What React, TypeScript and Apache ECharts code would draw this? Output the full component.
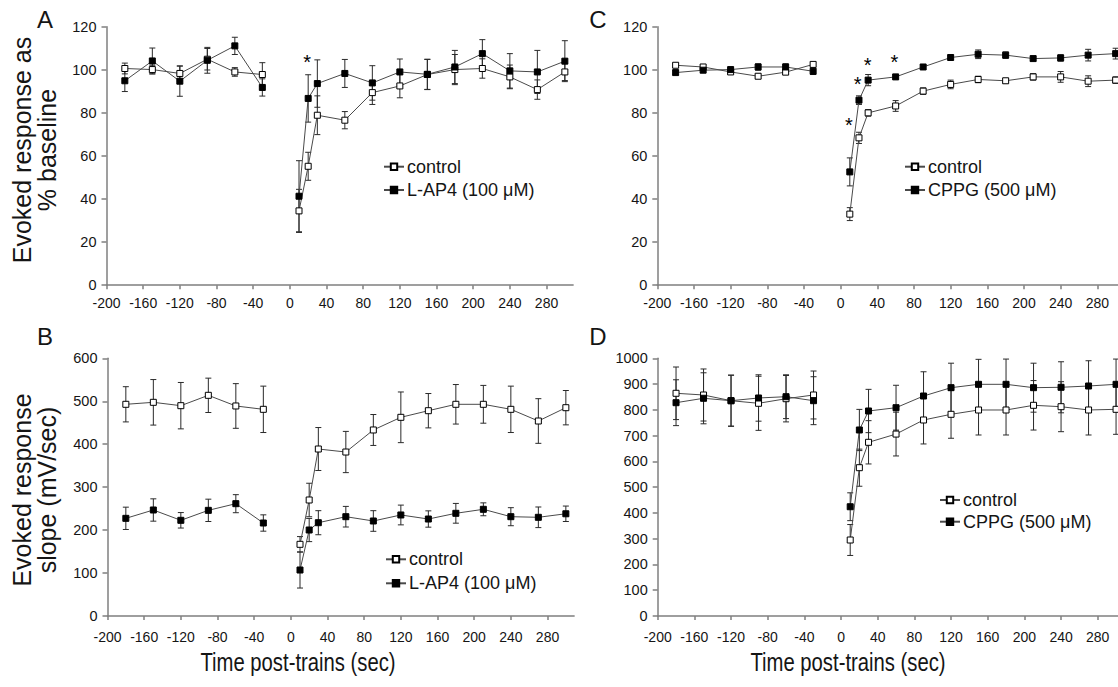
import React, { useEffect, useRef } from 'react';
import * as echarts from 'echarts';

// ---------- data ----------
const timeBase = [-180, -150, -120, -90, -60, -30];
const timePost = [10, 20, 30, 60, 90, 120, 150, 180, 210, 240, 270, 300];
const times = [...timeBase, ...timePost];
const xTickValues = [-200, -160, -120, -80, -40, 0, 40, 80, 120, 160, 200, 240, 280];

// Panel A (% baseline, L-AP4)
const aCtrlMean = [100.6, 100.1, 98.3, 104.9, 99.0, 97.8, 34.5, 55.2, 78.9, 76.6, 89.4, 92.5, 97.8, 100.1, 100.6, 96.7, 90.8, 99.0];
const aCtrlErr = [2.5, 2, 3.5, 5, 2, 5.5, 10, 6.5, 9, 4, 5.5, 5.5, 7, 7, 4.5, 5.5, 4.5, 4];
const aDrugMean = [94.9, 104.1, 94.7, 104.4, 111.1, 91.8, 41.3, 86.7, 93.6, 98.3, 93.9, 99.0, 97.9, 101.3, 107.5, 99.5, 99.0, 104.0];
const aDrugErr = [5, 6, 7, 6, 4, 4, 16.5, 11, 11, 6.5, 8, 6, 7, 7.7, 6.5, 8, 10, 9.5];
const aStars = [[19, 106]];

// Panel C (% baseline, CPPG)
const cCtrlMean = [102.1, 101.3, 99.0, 97.0, 98.9, 102.5, 33.0, 68.4, 80.0, 83.2, 90.1, 93.2, 95.5, 94.9, 96.7, 96.7, 94.7, 95.2];
const cCtrlErr = [1, 1, 1, 1, 1, 1, 3, 2.6, 1.5, 2.5, 1.5, 2, 1.5, 1, 1.5, 2.5, 2.5, 1.5];
const cDrugMean = [98.7, 99.8, 100.1, 101.3, 101.3, 99.3, 52.6, 85.9, 95.2, 96.7, 101.3, 105.7, 107.2, 106.8, 105.2, 105.5, 106.8, 107.5];
const cDrugErr = [1, 1, 1, 1.5, 1.5, 1.5, 6.5, 2, 2.6, 1, 1, 1, 2, 1.5, 1, 1.5, 2.7, 2.5];
const cStars = [[9, 76.6], [18.6, 95.5], [29.5, 104.5], [58.6, 106]];

// Panel B (slope mV/sec, L-AP4)
const bCtrlMean = [492.9, 497.5, 489.7, 513.8, 489.0, 481.2, 166.9, 270.1, 388.8, 381.8, 433.1, 462.6, 478.0, 492.9, 492.9, 481.2, 454.0, 485.0];
const bCtrlErr = [41, 53, 54, 40, 52, 54, 18, 39, 50, 48, 36, 59, 40, 46, 44, 54, 52, 40];
const bDrugMean = [227.4, 246.8, 222.8, 246.0, 261.5, 216.5, 107.1, 200.2, 217.2, 231.2, 221.2, 235.2, 225.8, 239.1, 248.4, 231.2, 229.8, 238.0];
const bDrugErr = [26, 26, 18, 26, 21, 19, 42, 27, 28, 24, 24, 23, 19, 23, 15, 21, 24, 18];

// Panel D (slope mV/sec, CPPG)
const dCtrlMean = [864.2, 857.6, 835.5, 825.4, 843.2, 857.6, 294.9, 575.5, 674.0, 706.0, 760.6, 782.7, 799.4, 799.4, 817.6, 812.2, 799.4, 802.0];
const dCtrlErr = [102, 101, 99, 105, 90, 93, 60, 72, 84, 85, 93, 93, 97, 97, 96, 97, 97, 97];
const dDrugMean = [827.7, 844.8, 835.5, 846.0, 851.0, 835.5, 424.0, 721.8, 795.5, 808.3, 853.7, 886.0, 899.0, 899.0, 886.0, 887.5, 892.5, 899.0];
const dDrugErr = [89, 99, 99, 90, 85, 93, 54, 80, 84, 87, 94, 95, 97, 98, 95, 99, 98, 98];

const ctrlName = 'control';
const lap4Name = 'L-AP4 (100 μM)';
const cppgName = 'CPPG (500 μM)';

// ---------- styling helpers ----------
const FONT = '"Liberation Sans", Arial, Helvetica, sans-serif';
const AXIS_COLOR = '#7f7f7f';
const TEXT_COLOR = '#151515';

function lineSeries(name: string, idx: number, means: number[], filled: boolean) {
  const base: any = {
    type: 'line',
    name,
    xAxisIndex: idx,
    yAxisIndex: idx,
    z: 3,
    symbol: 'rect',
    symbolSize: 6,
    showAllSymbol: true,
    silent: true,
    lineStyle: { color: '#4a4a4a', width: 1 },
    itemStyle: filled
      ? { color: '#000', borderColor: '#000', borderWidth: 1 }
      : { color: '#fff', borderColor: '#000', borderWidth: 1 },
    emphasis: { disabled: true },
  };
  return [
    { ...base, data: timeBase.map((t, i) => [t, means[i]]) },
    { ...base, data: timePost.map((t, i) => [t, means[i + timeBase.length]]) },
  ];
}

function errorSeries(idx: number, means: number[], errs: number[]) {
  return {
    type: 'custom',
    name: 'err' + idx,
    xAxisIndex: idx,
    yAxisIndex: idx,
    z: 2,
    silent: true,
    data: times.map((t, i) => [t, means[i] - errs[i], means[i] + errs[i]]),
    encode: { x: 0, y: [1, 2] },
    renderItem: (_p: any, api: any) => {
      const x = api.value(0);
      const lo = api.coord([x, api.value(1)]);
      const hi = api.coord([x, api.value(2)]);
      const w = 3;
      const style = { stroke: '#2a2a2a', lineWidth: 1 };
      return {
        type: 'group',
        children: [
          { type: 'line', shape: { x1: lo[0], y1: lo[1], x2: hi[0], y2: hi[1] }, style },
          { type: 'line', shape: { x1: lo[0] - w, y1: lo[1], x2: lo[0] + w, y2: lo[1] }, style },
          { type: 'line', shape: { x1: hi[0] - w, y1: hi[1], x2: hi[0] + w, y2: hi[1] }, style },
        ],
      };
    },
  };
}

function starSeries(idx: number, pts: number[][]) {
  return {
    type: 'custom',
    name: 'stars' + idx,
    xAxisIndex: idx,
    yAxisIndex: idx,
    z: 4,
    silent: true,
    data: pts,
    encode: { x: 0, y: 1 },
    renderItem: (_p: any, api: any) => {
      const c = api.coord([api.value(0), api.value(1)]);
      return {
        type: 'text',
        x: c[0],
        y: c[1] + 5,
        style: { text: '*', fontSize: 20, fontFamily: FONT, fill: '#000', align: 'center', verticalAlign: 'middle' },
      };
    },
  };
}

function xAxis(gridIndex: number, bottom: boolean) {
  return {
    type: 'value',
    gridIndex,
    min: -200,
    max: 309,
    interval: 40,
    axisLine: { show: true, onZero: false, lineStyle: { color: AXIS_COLOR, width: 1.5 } },
    axisTick: { show: true, length: 4, customValues: xTickValues, lineStyle: { color: AXIS_COLOR, width: 1.5 } },
    axisLabel: {
      customValues: xTickValues,
      margin: bottom ? 14 : 11,
      fontSize: 14,
      fontFamily: FONT,
      color: TEXT_COLOR,
      hideOverlap: false,
      formatter: (v: number) => String(v),
    },
    splitLine: { show: false },
  };
}

function yAxis(gridIndex: number, max: number, interval: number) {
  return {
    type: 'value',
    gridIndex,
    min: 0,
    max,
    interval,
    axisLine: { show: true, onZero: false, lineStyle: { color: AXIS_COLOR, width: 1.5 } },
    axisTick: { show: true, length: 5, lineStyle: { color: AXIS_COLOR, width: 1.5 } },
    axisLabel: {
      margin: 10,
      fontSize: 14.5,
      fontFamily: FONT,
      color: TEXT_COLOR,
      formatter: (v: number) => String(v),
    },
    splitLine: { show: false },
  };
}

function legend(left: number, top: number, gap: number, names: string[]) {
  return {
    left,
    top,
    orient: 'vertical',
    padding: 0,
    itemWidth: 20,
    itemHeight: 8,
    itemGap: gap,
    selectedMode: false,
    data: names,
    textStyle: { fontSize: 18, fontFamily: FONT, color: TEXT_COLOR, padding: [0, 0, 0, -2] },
  };
}

export default function App() {
  const ref = useRef<HTMLDivElement>(null);
  useEffect(() => {
    if (!ref.current) return;
    const chart = echarts.init(ref.current, null, { renderer: 'svg' });
    const W = 466.6;
    const titleStyle = { fontSize: 25, lineHeight: 25, fontFamily: FONT, fill: TEXT_COLOR, align: 'center', verticalAlign: 'middle' };
    const letterStyle = { fontSize: 24, fontFamily: FONT, fill: TEXT_COLOR, align: 'center', verticalAlign: 'middle' };
    const option: any = {
      animation: false,
      backgroundColor: '#ffffff',
      textStyle: { fontFamily: FONT },
      grid: [
        { left: 106.5, top: 26.7, width: W, height: 258.5, containLabel: false, outerBoundsMode: 'none' },
        { left: 657.3, top: 26.7, width: W, height: 258.5, containLabel: false, outerBoundsMode: 'none' },
        { left: 107.5, top: 358.3, width: W, height: 257.7, containLabel: false, outerBoundsMode: 'none' },
        { left: 657.7, top: 358.3, width: W, height: 257.7, containLabel: false, outerBoundsMode: 'none' },
      ],
      xAxis: [xAxis(0, false), xAxis(1, false), xAxis(2, true), xAxis(3, true)],
      yAxis: [yAxis(0, 120, 20), yAxis(1, 120, 20), yAxis(2, 600, 100), yAxis(3, 1000, 100)],
      legend: [
        legend(383, 157.7, 5.3, [ctrlName, lap4Name]),
        legend(904, 157.7, 5.3, [ctrlName, cppgName]),
        legend(385, 550.3, 6, [ctrlName, lap4Name]),
        legend(939, 491, 3.7, [ctrlName, cppgName]),
      ],
      graphic: [
        { type: 'text', x: 45, y: 19, style: { ...letterStyle, text: 'A' } },
        { type: 'text', x: 45, y: 336, style: { ...letterStyle, text: 'B' } },
        { type: 'text', x: 598, y: 19, style: { ...letterStyle, text: 'C' } },
        { type: 'text', x: 598, y: 336, style: { ...letterStyle, text: 'D' } },
        { type: 'text', x: 34.5, y: 150, rotation: Math.PI / 2, style: { ...titleStyle, text: 'Evoked response as\n% baseline' } },
        { type: 'text', x: 34.5, y: 490, rotation: Math.PI / 2, style: { ...titleStyle, text: 'Evoked response\nslope (mV/sec)' } },
        {
          type: 'text', x: 298, y: 662, scaleX: 0.78,
          style: { text: 'Time post-trains (sec)', fontSize: 26, fontFamily: FONT, fill: TEXT_COLOR, align: 'center', verticalAlign: 'middle' },
        },
        {
          type: 'text', x: 848, y: 662, scaleX: 0.78,
          style: { text: 'Time post-trains (sec)', fontSize: 26, fontFamily: FONT, fill: TEXT_COLOR, align: 'center', verticalAlign: 'middle' },
        },
      ],
      series: [
        errorSeries(0, aCtrlMean, aCtrlErr),
        errorSeries(0, aDrugMean, aDrugErr),
        ...lineSeries(ctrlName, 0, aCtrlMean, false),
        ...lineSeries(lap4Name, 0, aDrugMean, true),
        starSeries(0, aStars),

        errorSeries(1, cCtrlMean, cCtrlErr),
        errorSeries(1, cDrugMean, cDrugErr),
        ...lineSeries(ctrlName, 1, cCtrlMean, false),
        ...lineSeries(cppgName, 1, cDrugMean, true),
        starSeries(1, cStars),

        errorSeries(2, bCtrlMean, bCtrlErr),
        errorSeries(2, bDrugMean, bDrugErr),
        ...lineSeries(ctrlName, 2, bCtrlMean, false),
        ...lineSeries(lap4Name, 2, bDrugMean, true),

        errorSeries(3, dCtrlMean, dCtrlErr),
        errorSeries(3, dDrugMean, dDrugErr),
        ...lineSeries(ctrlName, 3, dCtrlMean, false),
        ...lineSeries(cppgName, 3, dDrugMean, true),
      ],
    };
    chart.setOption(option);
    return () => chart.dispose();
  }, []);
  return (
    <div
      ref={ref}
      style={{ position: 'absolute', left: 0, top: 0, width: 1118, height: 687, background: '#fff' }}
    />
  );
}
